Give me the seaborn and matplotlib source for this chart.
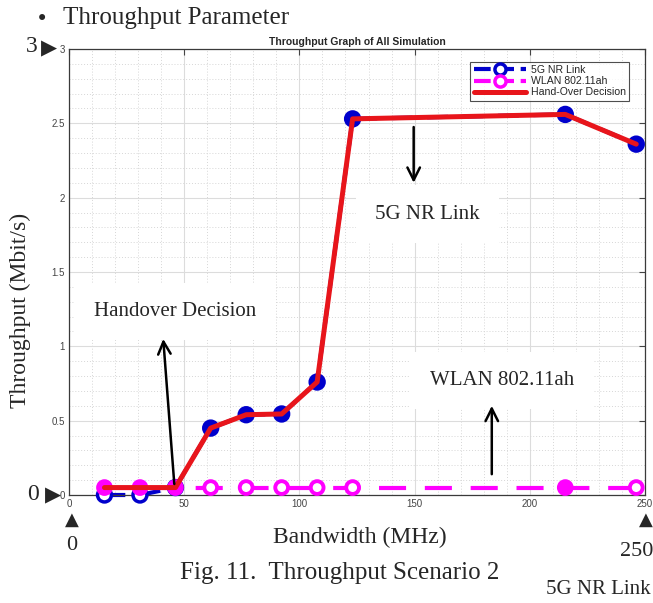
import matplotlib
matplotlib.use("Agg")
import matplotlib.pyplot as plt
from matplotlib.lines import Line2D
from matplotlib.ticker import MultipleLocator
import numpy as np
import pandas as pd
import seaborn as sns

# ---- data ----
bandwidth = [15.4, 30.8, 46.2, 61.5, 76.9, 92.3, 107.7, 123.1, 215.4, 246.2]
nr_throughput = [0.0, 0.0, 0.05, 0.45, 0.54, 0.545, 0.76, 2.53, 2.56, 2.36]
wlan_throughput = [0.05, 0.05, 0.05, 0.05, 0.05, 0.05, 0.05, 0.05, 0.05, 0.05]
handover_throughput = [0.05, 0.05, 0.05, 0.45, 0.54, 0.545, 0.76, 2.53, 2.56, 2.36]
series_labels = ["5G NR Link", "WLAN 802.11ah", "Hand-Over Decision"]
x_ticks = [0, 50, 100, 150, 200, 250]
y_ticks = [0, 0.5, 1, 1.5, 2, 2.5, 3]
y_tick_labels = ["0", "0.5", "1", "1.5", "2", "2.5", "3"]

df = pd.DataFrame({"bw": bandwidth, "nr": nr_throughput,
                   "wlan": wlan_throughput, "ho": handover_throughput})

sns.set_style("white")
plt.rcParams["font.family"] = ["Liberation Sans", "DejaVu Sans"]

W, H = 653, 603
fig = plt.figure(figsize=(W / 100, H / 100), dpi=100)
L, R, T, B = 69, 645, 49, 495
ax = fig.add_axes([L / W, 1 - B / H, (R - L) / W, (B - T) / H])

BLUE = "#0000cc"
MAG = "#ff00ff"
RED = "#e8151b"

# 5G NR link (dashed blue)
sns.lineplot(data=df, x="bw", y="nr", ax=ax, color=BLUE, linewidth=3.0,
             linestyle=(0, (5, 3.5)), sort=False, estimator=None, zorder=2,
             clip_on=False)
nr_face = ["white", "white", BLUE, BLUE, BLUE, BLUE, BLUE, BLUE, BLUE, BLUE]
ax.scatter(df["bw"], df["nr"], s=100, facecolors=nr_face, edgecolors=BLUE,
           linewidths=2.5, zorder=3, clip_on=False)

# WLAN 802.11ah (dashed magenta)
sns.lineplot(data=df, x="bw", y="wlan", ax=ax, color=MAG, linewidth=3.0,
             linestyle=(0, (6.5, 4.5)), sort=False, estimator=None, zorder=4)
wl_face = [MAG, MAG, MAG, "white", "white", "white", "white", "white", MAG, "white"]
ax.scatter(df["bw"], df["wlan"], s=85, facecolors=wl_face, edgecolors=MAG,
           linewidths=2.8, zorder=5, clip_on=False)

# Hand-over decision (solid red)
sns.lineplot(data=df, x="bw", y="ho", ax=ax, color=RED, linewidth=3.6,
             sort=False, estimator=None, zorder=6)

ax.set_xlim(0, 250)
ax.set_ylim(0, 3)
ax.set_xticks(x_ticks)
ax.set_xticklabels([str(v) for v in x_ticks])
ax.set_yticks(y_ticks)
ax.set_yticklabels(y_tick_labels)
ax.xaxis.set_minor_locator(MultipleLocator(10))
ax.yaxis.set_minor_locator(MultipleLocator(0.1))
ax.grid(which="major", color="#dcdcdc", linewidth=0.8, linestyle="-")
ax.grid(which="minor", color="#d6d6d6", linewidth=0.7, linestyle=(0, (1, 2)))
ax.set_axisbelow(True)
ax.tick_params(which="major", direction="in", length=4, width=0.8,
               top=True, right=True, labelsize=7, labelcolor="#444444",
               color="#444444", pad=3)
ax.tick_params(which="minor", length=0)
for s in ax.spines.values():
    s.set_color("#3a3a3a")
    s.set_linewidth(0.9)
ax.set_xlabel("")
ax.set_ylabel("")
ax.set_title("Throughput Graph of All Simulation", fontsize=7.5,
             fontweight="bold", pad=3)

handles = [
    Line2D([], [], color=BLUE, lw=3, linestyle=(0, (4, 1.6)), marker="o",
           markersize=8, markerfacecolor="white", markeredgewidth=2.5),
    Line2D([], [], color=MAG, lw=3, linestyle=(0, (4, 1.6)), marker="o",
           markersize=8, markerfacecolor="white", markeredgewidth=2.5),
    Line2D([], [], color=RED, lw=3.6),
]
leg = ax.legend(handles, series_labels, loc="upper right", fontsize=7.6,
                handlelength=5.0, frameon=True, fancybox=False,
                borderaxespad=1.0, borderpad=0.3, labelspacing=0.12,
                handletextpad=0.4, bbox_to_anchor=(0.99, 0.995))
leg.get_frame().set_edgecolor("#222222")
leg.get_frame().set_linewidth(0.8)
leg.set_zorder(10)

# ---- annotations inside the axes ----
serif = ["Liberation Serif", "DejaVu Serif"]
box = dict(facecolor="white", edgecolor="none", pad=14)
ax.text(46, 1.234, "Handover Decision", family=serif, fontsize=15,
        ha="center", va="center", bbox=box, zorder=7)
ax.text(155.6, 1.89, "5G NR Link", family=serif, fontsize=15,
        ha="center", va="center", bbox=box, zorder=7)
ax.text(187.8, 0.77, "WLAN 802.11ah", family=serif, fontsize=15,
        ha="center", va="center", bbox=box, zorder=7)
arr = dict(arrowstyle="->,head_length=0.9,head_width=0.45", color="black", lw=1.8,
           shrinkA=0, shrinkB=0)
ax.annotate("", xy=(40.9, 1.05), xytext=(45.7, 0.074), arrowprops=arr, zorder=8)
ax.annotate("", xy=(149.6, 2.10), xytext=(149.6, 2.475), arrowprops=arr, zorder=8)
ax.annotate("", xy=(183.5, 0.60), xytext=(183.5, 0.14), arrowprops=arr, zorder=8)

# ---- page text around the figure ----
def ft(x, y, s, **kw):
    fig.text(x / W, 1 - y / H, s, **kw)

ft(42, 19, "\u2022", family="DejaVu Sans", fontsize=15, ha="center", va="center")
ft(63, 18, "Throughput Parameter", family=serif, fontsize=18, ha="left", va="center")
ft(32, 47, "3", family=serif, fontsize=17, ha="center", va="center")
ft(49, 48, "\u25b6", family="DejaVu Sans", fontsize=15, ha="center", va="center")
ft(33, 494, "0", family=serif, fontsize=17, ha="center", va="center")
ft(53, 495, "\u25b6", family="DejaVu Sans", fontsize=15, ha="center", va="center")
ft(72, 520, "\u25b2", family="DejaVu Sans", fontsize=13, ha="center", va="center")
ft(72, 545, "0", family=serif, fontsize=16, ha="center", va="center")
ft(646, 520, "\u25b2", family="DejaVu Sans", fontsize=13, ha="center", va="center")
ft(637, 551, "250", family=serif, fontsize=16, ha="center", va="center")
ft(360, 537, "Bandwidth (MHz)", family=serif, fontsize=17, ha="center", va="center")
ft(340, 573, "Fig. 11.  Throughput Scenario 2", family=serif, fontsize=18,
   ha="center", va="center")
ft(598, 590, "5G NR Link", family=serif, fontsize=15, ha="center", va="center")
ft(20, 310, "Throughput (Mbit/s)", family=serif, fontsize=17, ha="center",
   va="center", rotation=90)

fig.savefig("out.png", dpi=100)
